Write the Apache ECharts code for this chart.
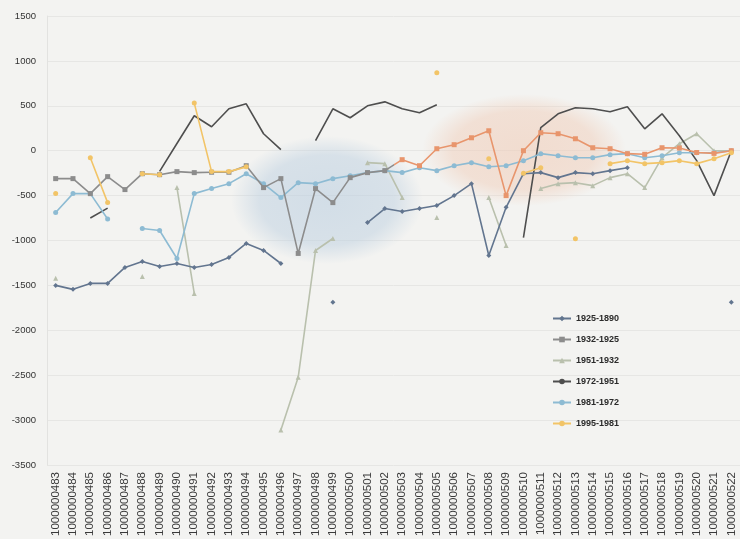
<!DOCTYPE html>
<html>
<head>
<meta charset="utf-8">
<script src="https://cdn.jsdelivr.net/npm/echarts@6/dist/echarts.min.js"></script>
<style>
    html, body {margin: 0; padding: 0; background: #f3f3f1;}
    #chart-container {width: 740px; height: 539px;}
</style>
</head>
<body>
<div id="chart-container"></div>
<script>
var categories = [];
for (var n = 483; n <= 522; n++) {
    categories.push('1000000' + n);
}

var seriesNames = ['1925-1890', '1932-1925', '1951-1932', '1972-1951', '1981-1972', '1995-1981'];

var s1925 = [-1500, -1544, -1478, -1478, -1300, -1233, -1289, -1256, -1300, -1267,
    -1189, -1033, -1111, -1256, null, null, -1689, null, -800, -644,
    -678, -644, -611, -500, -367, -1167, -630, -256, -244, -300,
    -244, -256, -222, -189, null, null, null, null, null, -1689];
var s1932 = [-311, -311, -478, -289, -433, -256, -267, -233, -244, -240,
    -240, -167, -411, -311, -1144, -422, -578, -300, -244, -222,
    -100, -167, 22, 67, 144, 222, -500, 0, 200, 189,
    133, 33, 22, -33, -40, 33, 30, -20, -30, 0];
var s1951 = [-1420, null, null, null, null, -1400, null, -411, -1589, null,
    null, null, null, -3111, -2522, -1111, -978, null, -133, -144,
    -522, null, -744, null, null, -522, -1056, null, -422, -367,
    -356, -389, -300, -256, -411, -78, 78, 189, 0, 0];
var s1972 = [null, null, -750, -640, null, null, -230, 80, 389, 267,
    467, 522, 189, 11, null, 111, 467, 367, 500, 544,
    467, 422, 511, null, null, null, null, -967, 256, 411,
    478, 467, 433, 489, 244, 411, 167, -111, -500, 0];
var s1981 = [-689, -478, -478, -760, null, -867, -889, -1200, -478, -422,
    -367, -256, -367, -522, -356, -367, -311, -278, -244, -222,
    -244, -189, -222, -167, -133, -178, -167, -111, -33, -56,
    -78, -78, -44, -33, -78, -56, -22, -22, -22, 0];
var s1995 = [-478, null, -78, -578, null, -256, -267, null, 530, -233,
    -233, -180, null, null, null, null, null, null, null, null,
    null, null, 867, null, null, -89, null, -250, -190, null,
    -980, null, -144, -111, -144, -133, -111, -144, -89, -22];

var yTicks = [-3500, 1500, 500];

var chart = echarts.init(document.getElementById('chart-container'));

function makeSeries(name, data, color, symbol, z) {
    return {
        name: name,
        type: 'line',
        data: data,
        symbol: symbol,
        symbolSize: 5,
        showAllSymbol: true,
        connectNulls: false,
        z: z,
        lineStyle: {width: 1.6, color: color},
        itemStyle: {color: color},
        emphasis: {disabled: true}
    };
}

// soft shaded blobs drawn on the photo
function blob(cx, cy, rx, ry, rgb) {
    return {
        type: 'circle',
        z: 1,
        silent: true,
        x: cx,
        y: cy,
        scaleX: rx / ry,
        shape: {cx: 0, cy: 0, r: ry},
        style: {
            fill: new echarts.graphic.RadialGradient(0.5, 0.5, 0.5, [
                {offset: 0, color: 'rgba(' + rgb + ',0.6)'},
                {offset: 0.7, color: 'rgba(' + rgb + ',0.5)'},
                {offset: 1, color: 'rgba(' + rgb + ',0)'}
            ])
        }
    };
}

// 1932-1925 turns orange in the right half of the photo
var grayTone = '#8c8c8c', orangeTone = '#e8956c';
var s1932Series = makeSeries(seriesNames[1], s1932, grayTone, 'rect', 5);
s1932Series.lineStyle.color = new echarts.graphic.LinearGradient(0, 0, 1, 0, [
    {offset: 0, color: grayTone},
    {offset: 0.5, color: grayTone},
    {offset: 0.5, color: orangeTone},
    {offset: 1, color: orangeTone}
]);
s1932Series.itemStyle.color = function (p) {
    return p.dataIndex < 20 ? grayTone : orangeTone;
};

var legendData = seriesNames.map(function (name, i) {
    if (i === 1) {
        return {name: name, itemStyle: {color: grayTone}, lineStyle: {color: grayTone}};
    }
    return {name: name};
});

var option = {
    backgroundColor: '#f3f3f1',
    animation: false,
    textStyle: {fontFamily: 'Liberation Sans'},
    graphic: [
        blob(327, 200, 96, 64, '188,207,224'),
        blob(524, 150, 102, 56, '240,205,185')
    ],
    grid: {left: 47, top: 16, width: 698, height: 449},
    legend: {
        orient: 'vertical',
        left: 547,
        top: 309,
        itemWidth: 18,
        itemHeight: 7,
        itemGap: 12,
        data: legendData,
        textStyle: {fontSize: 9, fontWeight: 'bold', color: '#2a2a2a'}
    },
    xAxis: {
        type: 'category',
        data: categories,
        boundaryGap: true,
        axisLine: {show: false},
        axisTick: {show: false},
        axisLabel: {
            interval: 0,
            rotate: 90,
            fontSize: 11.5,
            color: '#3a3a3a',
            margin: 7
        }
    },
    yAxis: {
        type: 'value',
        min: yTicks[0],
        max: yTicks[1],
        interval: yTicks[2],
        axisLine: {show: true, lineStyle: {color: '#e2e2e0'}},
        axisTick: {show: false},
        axisLabel: {
            fontSize: 9.5, color: '#333', margin: 11,
            formatter: function (v) { return String(v); }
        },
        splitLine: {lineStyle: {color: '#e6e6e4', width: 1}}
    },
    series: [
        makeSeries(seriesNames[0], s1925, '#62758f', 'diamond', 6),
        s1932Series,
        makeSeries(seriesNames[2], s1951, '#b9c0ad', 'triangle', 3),
        makeSeries(seriesNames[3], s1972, '#4e4e4e', 'none', 4),
        makeSeries(seriesNames[4], s1981, '#8dbbd3', 'circle', 4),
        makeSeries(seriesNames[5], s1995, '#f2c467', 'circle', 7)
    ]
};
chart.setOption(option);
</script>
</body>
</html>
